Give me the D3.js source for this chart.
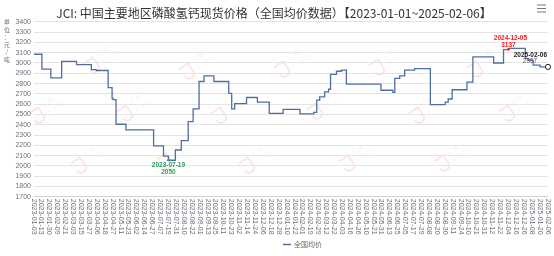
<!DOCTYPE html>
<html>
<head>
<meta charset="utf-8">
<script src="https://cdn.jsdelivr.net/npm/d3@7"></script>
<style>
  html, body { margin: 0; padding: 0; background: #fff; }
  svg { display: block; font-family: "Liberation Sans", Arial, sans-serif; }
</style>
</head>
<body>
<div id="chart"></div>
<script>
// tick labels shown on the category axis (one every 8 trading days)
const tickLabels = [
  "2023-01-03","2023-01-13","2023-01-30","2023-02-09","2023-02-21","2023-03-03","2023-03-15","2023-03-27",
  "2023-04-06","2023-04-18","2023-04-27","2023-05-11","2023-05-23","2023-06-02","2023-06-14","2023-06-27",
  "2023-07-07","2023-07-19","2023-07-31","2023-08-10","2023-08-22","2023-09-01","2023-09-13","2023-09-25",
  "2023-10-11","2023-10-23","2023-11-02","2023-11-14","2023-11-24","2023-12-06","2023-12-18","2023-12-28",
  "2024-01-10","2024-01-22","2024-02-01","2024-02-19","2024-02-29","2024-03-12","2024-03-22","2024-04-03",
  "2024-04-16","2024-04-26","2024-05-10","2024-05-21","2024-05-31","2024-06-13","2024-06-25","2024-07-05",
  "2024-07-17","2024-07-29","2024-08-08","2024-08-20","2024-08-30","2024-09-11","2024-09-24","2024-10-10",
  "2024-10-21","2024-10-31","2024-11-12","2024-11-22","2024-12-04","2024-12-16","2024-12-26","2025-01-08",
  "2025-01-20","2025-02-06"
];
const daysPerTick = 8;
const lastDay = (tickLabels.length - 1) * daysPerTick;

// price changes: trading-day index where the price changes, and the new price (元/吨)
const changeDay = [0, 8, 17, 28, 43, 58, 63, 75, 79, 80, 83, 93, 121, 131, 136, 143, 149, 156, 161, 167,
  172, 182, 197, 200, 203, 215, 226, 238, 252, 269, 283, 286, 289, 294, 298, 300, 306, 311, 316, 351,
  363, 365, 370, 375, 385, 401, 416, 419, 423, 438, 444, 465, 475, 480, 497, 500, 505, 512];
const changePrice = [3080, 2935, 2850, 3010, 2980, 2930, 2922, 2755, 2650, 2640, 2400, 2345, 2190, 2090, 2050, 2150, 2240, 2425, 2550, 2815,
  2870, 2815, 2700, 2550, 2600, 2660, 2615, 2505, 2545, 2500, 2515, 2635, 2665, 2715, 2740, 2885, 2915, 2925, 2790, 2730,
  2710, 2845, 2870, 2925, 2940, 2590, 2615, 2645, 2735, 2810, 3055, 2995, 3125, 3137, 3040, 3020, 2975, 2957];

const yTicks = d3.range(1700, 3401, 100);

// highlighted points: min, max, last
const minPoint = { day: 136, date: "2023-07-19", value: 2050 };
const maxPoint = { day: 480, date: "2024-12-05", value: 3137 };
const lastPoint = { day: 520, date: "2025-02-06", value: 2957 };

const W = 554, H = 256;
const plot = { left: 34, right: 548, top: 21.3, bottom: 196.3 };

const svg = d3.select("#chart").append("svg")
  .attr("width", W).attr("height", H);

svg.append("rect").attr("width", W).attr("height", H).attr("fill", "#fff");

const x = d3.scaleLinear().domain([0, lastDay]).range([plot.left, plot.right]);
const y = d3.scaleLinear().domain([1700, 3400]).range([plot.bottom, plot.top]);

// watermarks
const wmPos = [
  [95, 62], [190, 68], [285, 66], [380, 64], [478, 66],
  [40, 112], [128, 110], [222, 112], [318, 108], [420, 112], [510, 110],
  [82, 162], [168, 158], [250, 162], [350, 160], [445, 160]
];
const wm = svg.append("g").attr("opacity", 0.11);
wmPos.forEach(([wx, wy]) => {
  const g = wm.append("g").attr("transform", `translate(${wx},${wy}) rotate(-35)`);
  g.append("path")
    .attr("d", "M-10,-5 L1,-5 L1,4 Q1,9 -4,9 Q-9,9 -9,4")
    .attr("fill", "none").attr("stroke", "#e8251c").attr("stroke-width", 2);
  g.append("text").attr("x", 6).attr("y", -2).attr("font-size", 6.5)
    .attr("font-family", "Noto Sans CJK SC").attr("fill", "#999").text("汇易");
  g.append("text").attr("x", 6).attr("y", 7).attr("font-size", 6)
    .attr("fill", "#999").attr("letter-spacing", 1.5).text("• JCI");
});

// grid + y axis labels
svg.append("g").selectAll("line").data(yTicks).join("line")
  .attr("x1", plot.left).attr("x2", plot.right)
  .attr("y1", d => Math.round(y(d)) + 0.5).attr("y2", d => Math.round(y(d)) + 0.5)
  .attr("stroke", d => d === 1700 ? "#cfcfcf" : "#e3e3e3").attr("stroke-width", 1);

svg.append("g").selectAll("text").data(yTicks).join("text")
  .attr("x", plot.left - 3).attr("y", d => y(d))
  .attr("dy", "0.35em").attr("text-anchor", "end")
  .attr("font-size", 7).attr("fill", "#6e7079")
  .text(d => d);

// x axis labels (vertical)
svg.append("g").selectAll("text").data(tickLabels).join("text")
  .attr("transform", (d, i) => `translate(${x(i * daysPerTick)},${plot.bottom + 2.5}) rotate(90)`)
  .attr("dy", "0.35em").attr("text-anchor", "start")
  .attr("font-size", 7).attr("fill", "#6e7079")
  .text(d => d);

// y unit label, stacked characters
const unit = ["单", "位", "：", "元", "/", "吨"];
svg.append("g").selectAll("text").data(unit).join("text")
  .attr("x", 7).attr("y", (d, i) => 24 + i * 7.6)
  .attr("text-anchor", "middle").attr("font-size", 5.8)
  .attr("font-family", "Noto Sans CJK SC").attr("fill", "#6e7079")
  .text(d => d);

// line
const pts = changeDay.map((d, i) => [d, changePrice[i]]);
pts.push([lastDay, changePrice[changePrice.length - 1]]);
const line = d3.line().x(d => x(d[0])).y(d => y(d[1])).curve(d3.curveStepAfter);
svg.append("path").datum(pts)
  .attr("d", line).attr("fill", "none")
  .attr("stroke", "#4f6fa0").attr("stroke-width", 1.3);

// min annotation
svg.append("circle").attr("cx", x(minPoint.day)).attr("cy", y(minPoint.value))
  .attr("r", 1.3).attr("fill", "#2e9e5b");
const minG = svg.append("g").attr("font-size", 6.5).attr("font-weight", "bold")
  .attr("fill", "#2e9e5b").attr("text-anchor", "middle");
minG.append("text").attr("x", x(minPoint.day)).attr("y", y(minPoint.value) + 7).text(minPoint.date);
minG.append("text").attr("x", x(minPoint.day)).attr("y", y(minPoint.value) + 13.5).text(minPoint.value);

// max annotation
svg.append("circle").attr("cx", x(maxPoint.day)).attr("cy", y(maxPoint.value) + 1)
  .attr("r", 1.3).attr("fill", "#ff1a1a");
const maxG = svg.append("g").attr("font-size", 6.5).attr("font-weight", "bold")
  .attr("fill", "#ff1a1a").attr("text-anchor", "middle");
maxG.append("text").attr("x", x(maxPoint.day) + 2).attr("y", y(maxPoint.value) - 8).text(maxPoint.date);
maxG.append("text").attr("x", x(maxPoint.day)).attr("y", y(maxPoint.value) - 1.5).text(maxPoint.value);

// last point annotation
svg.append("circle").attr("cx", x(lastPoint.day)).attr("cy", y(lastPoint.value))
  .attr("r", 2.6).attr("fill", "#fff").attr("stroke", "#222").attr("stroke-width", 1);
const lastG = svg.append("g").attr("font-size", 6.5).attr("font-weight", "bold");
lastG.append("text").attr("x", x(lastPoint.day) - 1).attr("y", y(lastPoint.value) - 10)
  .attr("text-anchor", "end").attr("fill", "#222").text(lastPoint.date);
lastG.append("text").attr("x", x(lastPoint.day) - 18).attr("y", y(lastPoint.value) - 4)
  .attr("text-anchor", "middle").attr("fill", "#555").attr("font-weight", "normal").text(lastPoint.value);

// title
svg.append("text").attr("x", 274).attr("y", 17.5)
  .attr("text-anchor", "middle").attr("font-size", 12)
  .attr("font-family", "Noto Sans CJK SC, sans-serif").attr("fill", "#333")
  .text("JCI: 中国主要地区磷酸氢钙现货价格（全国均价数据）【2023-01-01~2025-02-06】");

// menu icon
svg.append("g").selectAll("line").data([5, 8.5, 12]).join("line")
  .attr("x1", 537).attr("x2", 546).attr("y1", d => d).attr("y2", d => d)
  .attr("stroke", "#777").attr("stroke-width", 1);

// legend
svg.append("line").attr("x1", 283).attr("x2", 291).attr("y1", 244.5).attr("y2", 244.5)
  .attr("stroke", "#4f6fa0").attr("stroke-width", 1.5);
svg.append("text").attr("x", 294).attr("y", 244.5).attr("dy", "0.35em")
  .attr("font-size", 7).attr("font-family", "Noto Sans CJK SC").attr("fill", "#666")
  .text("全国均价");
</script>
</body>
</html>
